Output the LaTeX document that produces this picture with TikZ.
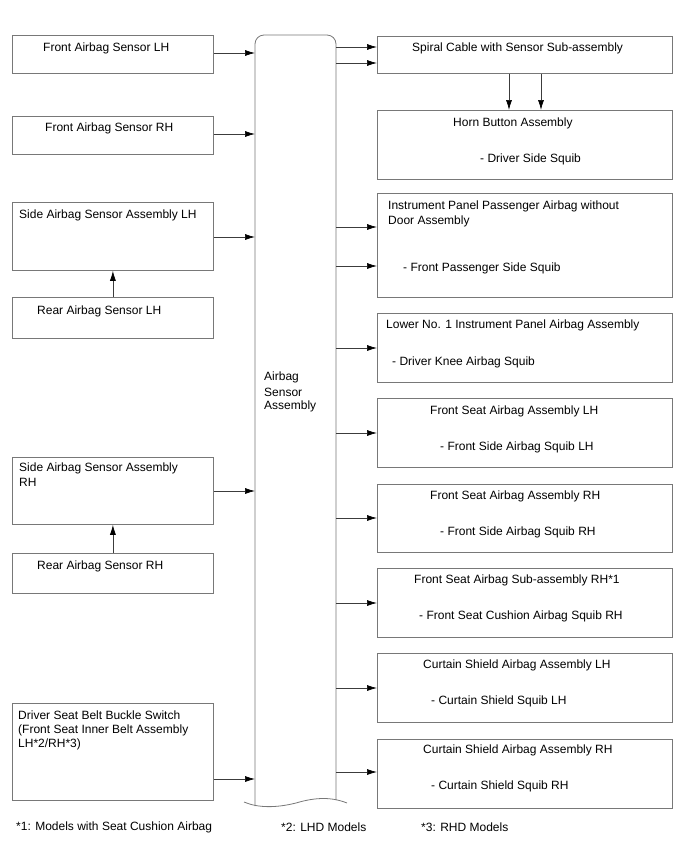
\documentclass[tikz,border=0pt]{standalone}
\usepackage{fontspec}
\setmainfont{Liberation Sans}
\usetikzlibrary{arrows.meta}
\definecolor{boxgray}{RGB}{120,120,120}
\definecolor{arrgray}{RGB}{60,60,60}
\begin{document}
\begin{tikzpicture}[x=1pt,y=-1pt,
  box/.style={draw=boxgray, line width=0.8pt, anchor=north west, inner sep=0pt},
  lbox/.style={box, minimum width=201pt},
  rbox/.style={box, minimum width=295pt},
  arr/.style={draw=arrgray, line width=0.7pt, -{Latex[length=10pt,width=6pt,color=black]}},
  t/.style={anchor=west, inner sep=0pt, yshift=-1.5pt, font=\fontsize{12}{14}\selectfont}]
\useasboundingbox (0,0) rectangle (688,852);

% central column
\node[anchor=north west, inner sep=0pt, minimum width=81pt, minimum height=770pt] (col) at (255,35) {};
\draw[boxgray, line width=0.8pt, rounded corners=9pt] (255,806) -- (255,35) -- (336,35) -- (336,800);
\draw[boxgray, line width=0.8pt] (244,802) .. controls (258,808) and (276,808) .. (296,803) .. controls (316,797) and (332,797) .. (347,803);
\node[t] (c1) at (264,376) {Airbag};
\node[t] (c2) at (264,391) {Sensor};
\node[t] (c3) at (264,405) {Assembly};

% left boxes
\node[lbox, minimum height=38pt] (fl) at (12,35) {};
\node[lbox, minimum height=38pt] (fr) at (12,116) {};
\node[lbox, minimum height=68pt] (sl) at (12,202) {};
\node[lbox, minimum height=41pt] (rl) at (12,297) {};
\node[lbox, minimum height=67pt] (sr) at (12,457) {};
\node[lbox, minimum height=40pt] (rr) at (12,553) {};
\node[lbox, minimum height=97pt] (db) at (12,703) {};

\node[t] (tfl) at (43,47) {Front Airbag Sensor LH};
\node[t] (tfr) at (45,127) {Front Airbag Sensor RH};
\node[t] (tsl) at (19,214) {Side Airbag Sensor Assembly LH};
\node[t] (trl) at (37,310) {Rear Airbag Sensor LH};
\node[t] (tsr1) at (19,467) {Side Airbag Sensor Assembly};
\node[t] (tsr2) at (19,481) {RH};
\node[t] (trr) at (37,565) {Rear Airbag Sensor RH};
\node[t] (tdb1) at (18,714) {Driver Seat Belt Buckle Switch};
\node[t] (tdb2) at (18,729) {(Front Seat Inner Belt Assembly};
\node[t] (tdb3) at (18,743) {LH*2/RH*3)};

\draw[arr] (fl.east |- 0,53) -- (col.west |- 0,53);
\draw[arr] (fr.east |- 0,134) -- (col.west |- 0,134);
\draw[arr] (sl.east |- 0,237) -- (col.west |- 0,237);
\draw[arr] (sr.east |- 0,491) -- (col.west |- 0,491);
\draw[arr] (db.east |- 0,779) -- (col.west |- 0,779);
\draw[arr] (rl.north) -- (sl.south);
\draw[arr] (rr.north) -- (sr.south);

% right boxes
\node[rbox, minimum height=37pt] (sp) at (377,36) {};
\node[rbox, minimum height=69pt] (hb) at (377,110) {};
\node[rbox, minimum height=104pt] (ip) at (377,193) {};
\node[rbox, minimum height=69pt] (lo) at (377,313) {};
\node[rbox, minimum height=69pt] (fsl) at (377,398) {};
\node[rbox, minimum height=68pt] (fsr) at (377,484) {};
\node[rbox, minimum height=69pt] (fss) at (377,568) {};
\node[rbox, minimum height=69pt] (csl) at (377,653) {};
\node[rbox, minimum height=69pt] (csr) at (377,739) {};

\node[t] (tsp) at (412,47) {Spiral Cable with Sensor Sub-assembly};
\node[t] (thb1) at (453,122) {Horn Button Assembly};
\node[t] (thb2) at (480,158) {- Driver Side Squib};
\node[t] (tip1) at (388,205) {Instrument Panel Passenger Airbag without};
\node[t] (tip2) at (388,220) {Door Assembly};
\node[t] (tip3) at (403,267) {- Front Passenger Side Squib};
\node[t] (tlo1) at (386,324) {Lower No. 1 Instrument Panel Airbag Assembly};
\node[t] (tlo2) at (392,361) {- Driver Knee Airbag Squib};
\node[t] (tfsl1) at (430,410) {Front Seat Airbag Assembly LH};
\node[t] (tfsl2) at (440,446) {- Front Side Airbag Squib LH};
\node[t] (tfsr1) at (430,495) {Front Seat Airbag Assembly RH};
\node[t] (tfsr2) at (440,531) {- Front Side Airbag Squib RH};
\node[t] (tfss1) at (414,579) {Front Seat Airbag Sub-assembly RH*1};
\node[t] (tfss2) at (419,615) {- Front Seat Cushion Airbag Squib RH};
\node[t] (tcsl1) at (423,664) {Curtain Shield Airbag Assembly LH};
\node[t] (tcsl2) at (431,700) {- Curtain Shield Squib LH};
\node[t] (tcsr1) at (423,749) {Curtain Shield Airbag Assembly RH};
\node[t] (tcsr2) at (431,785) {- Curtain Shield Squib RH};

\draw[arr] (col.east |- 0,47) -- (sp.west |- 0,47);
\draw[arr] (col.east |- 0,63) -- (sp.west |- 0,63);
\draw[arr] (sp.south -| 509,0) -- (hb.north -| 509,0);
\draw[arr] (sp.south -| 541,0) -- (hb.north -| 541,0);
\draw[arr] (col.east |- 0,227) -- (ip.west |- 0,227);
\draw[arr] (col.east |- 0,266) -- (ip.west |- 0,266);
\draw[arr] (col.east |- 0,348) -- (lo.west |- 0,348);
\draw[arr] (col.east |- 0,433) -- (fsl.west |- 0,433);
\draw[arr] (col.east |- 0,518) -- (fsr.west |- 0,518);
\draw[arr] (col.east |- 0,603) -- (fss.west |- 0,603);
\draw[arr] (col.east |- 0,688) -- (csl.west |- 0,688);
\draw[arr] (col.east |- 0,772) -- (csr.west |- 0,772);

% footnotes
\node[t] (n1) at (16,826) {*1: Models with Seat Cushion Airbag};
\node[t] (n2) at (281,826) {*2: LHD Models};
\node[t] (n3) at (421,826) {*3: RHD Models};
\end{tikzpicture}
\end{document}
